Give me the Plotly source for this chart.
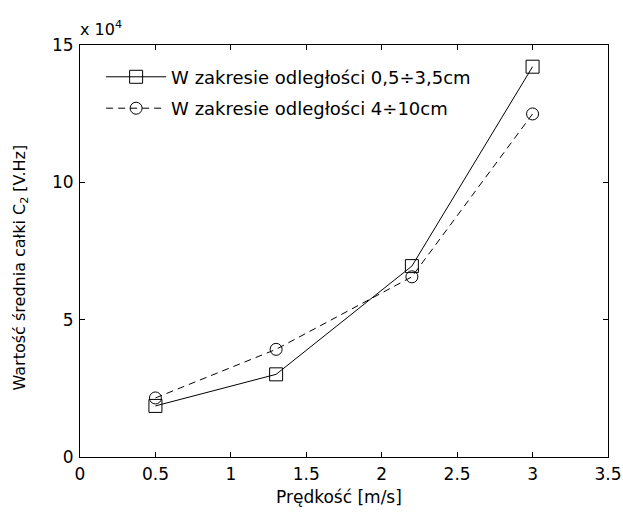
import plotly.graph_objects as go

speed = [0.5, 1.3, 2.2, 3.0]
series1_name = "W zakresie odległości 0,5÷3,5cm"
series1 = [18600, 30100, 69500, 142100]
series2_name = "W zakresie odległości 4÷10cm"
series2 = [21500, 39200, 65600, 124900]
x_ticks = [0, 0.5, 1, 1.5, 2, 2.5, 3, 3.5]
x_ticklabels = ["0", "0.5", "1", "1.5", "2", "2.5", "3", "3.5"]
y_ticks = [0, 50000, 100000, 150000]
y_ticklabels = ["0", "5", "10", "15"]
x_title = "Prędkość [m/s]"
y_title = "Wartość średnia całki C<sub>2</sub> [V.Hz]"
exponent_label = "x 10<sup>4</sup>"

font = "DejaVu Sans, sans-serif"
fs = 17

fig = go.Figure()
fig.add_trace(go.Scatter(
    x=speed, y=series1, name=series1_name, mode="lines+markers",
    legendgroup="a",
    line=dict(color="black", width=1),
    marker=dict(symbol="square-open", size=13, color="black", line=dict(width=1)),
))
fig.add_trace(go.Scatter(
    x=speed, y=series2, name=series2_name, mode="lines+markers",
    legendgroup="b",
    line=dict(color="black", width=1, dash="7px,5px"),
    marker=dict(symbol="circle-open", size=12, color="black", line=dict(width=1)),
))

axis_common = dict(
    showline=True, linecolor="black", linewidth=1, mirror="ticks",
    ticks="inside", ticklen=5, tickcolor="black", tickwidth=1,
    showgrid=False, zeroline=False, automargin=False,
    tickfont=dict(family=font, size=fs, color="black"),
)
fig.update_xaxes(range=[0, 3.5], tickvals=x_ticks, ticktext=x_ticklabels, ticklabelstandoff=2, **axis_common)
fig.update_yaxes(range=[0, 150000], tickvals=y_ticks, ticktext=y_ticklabels, ticklabelstandoff=2, **axis_common)

fig.add_annotation(text=exponent_label, xref="paper", yref="paper", x=0, y=1.0,
                   xanchor="left", yanchor="bottom", showarrow=False, yshift=4, xshift=-2,
                   font=dict(family=font, size=fs - 1, color="black"))
fig.add_annotation(text=x_title, xref="paper", yref="paper", x=0.49, y=0,
                   xanchor="center", yanchor="middle", showarrow=False, yshift=-40,
                   font=dict(family=font, size=fs, color="black"))
fig.add_annotation(text=y_title, xref="paper", yref="paper", x=0, y=0.46,
                   xanchor="center", yanchor="middle", showarrow=False, xshift=-60,
                   textangle=-90,
                   font=dict(family=font, size=fs - 1, color="black"))

fig.update_layout(
    width=623, height=512,
    margin=dict(l=80, r=15, t=45, b=55),
    paper_bgcolor="white", plot_bgcolor="white",
    font=dict(family=font, size=fs, color="black"),
    legend=dict(x=0.04, y=0.967, xanchor="left", yanchor="top",
                bgcolor="rgba(255,255,255,0)", borderwidth=0,
                font=dict(family=font, size=18, color="black"),
                itemwidth=60, traceorder="grouped", tracegroupgap=5),
    showlegend=True,
)

fig.write_html("out.html")
